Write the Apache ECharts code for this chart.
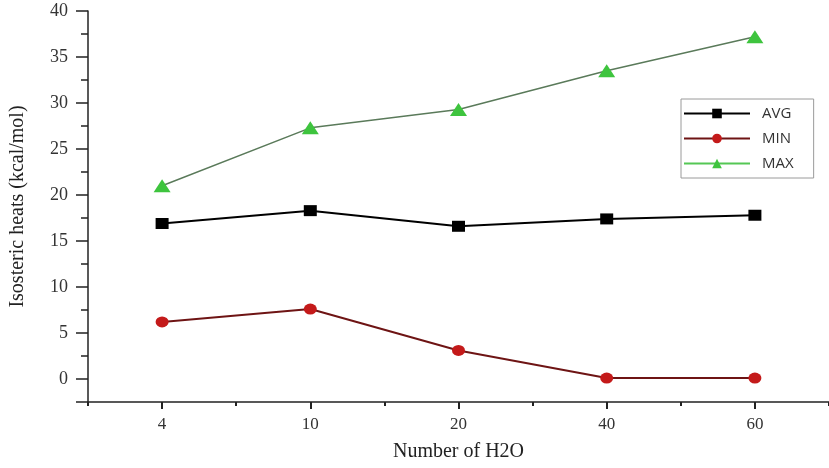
<!DOCTYPE html>
<html>
<head>
<meta charset="utf-8">
<script src="https://cdn.jsdelivr.net/npm/echarts@6/dist/echarts.min.js"></script>
<style>
	html, body { margin: 0; padding: 0; background: #fff; }
	#chart { width: 829px; height: 468px; }
</style>
</head>
<body>
<div id="chart"></div>
<script>
	// 数据
	var categories = ['4', '10', '20', '40', '60'];
	var avgValues = [16.9, 18.3, 16.6, 17.4, 17.8];
	var minValues = [6.2, 7.6, 3.1, 0.1, 0.1];
	var maxValues = [21.0, 27.3, 29.3, 33.5, 37.2];
	var seriesNames = ['AVG', 'MIN', 'MAX'];

	var serif = 'Liberation Serif';
	var axisColor = '#222';

	var myChart = echarts.init(document.getElementById('chart'));

	var option = {
		animation: false,
		backgroundColor: '#fff',
		grid: {
			left: 88,
			right: -3,
			top: 11,
			bottom: 66,
			containLabel: false
		},
		legend: {
			orient: 'vertical',
			left: 681,
			top: 99,
			padding: [7, 20, 7, 2],
			itemWidth: 66,
			itemHeight: 12,
			itemGap: 10,
			borderColor: '#9a9a9a',
			borderWidth: 1,
			textStyle: { fontFamily: 'Open Sans', fontSize: 15, color: '#333', padding: [0, 0, 0, 7] },
			data: [
				{ name: 'AVG' },
				{ name: 'MIN' },
				{ name: 'MAX', lineStyle: { color: '#55c755' } }
			]
		},
		xAxis: [{
			// 主刻度对齐标签
			type: 'category',
			data: categories,
			boundaryGap: true,
			name: 'Number of H2O',
			nameLocation: 'middle',
			nameGap: 40,
			nameTextStyle: { fontFamily: serif, fontSize: 20, color: '#222' },
			axisLine: { onZero: false, lineStyle: { color: axisColor, width: 1.5 } },
			axisTick: { show: true, alignWithLabel: true, length: 7, lineStyle: { color: axisColor, width: 2 } },
			axisLabel: { fontFamily: serif, fontSize: 17, color: '#333', margin: 14 },
			splitLine: { show: false }
		}, {
			// 次刻度在类目边界
			type: 'category',
			data: categories,
			position: 'bottom',
			boundaryGap: true,
			axisLine: { show: false, onZero: false },
			axisTick: { show: true, length: 4, lineStyle: { color: axisColor, width: 2 } },
			axisLabel: { show: false },
			splitLine: { show: false }
		}],
		yAxis: [{
			// 次刻度 2.5
			type: 'value',
			min: -2.5,
			max: 40,
			interval: 2.5,
			position: 'left',
			axisLine: { show: true, onZero: false, lineStyle: { color: axisColor, width: 1.5 } },
			axisTick: { show: true, length: 7, lineStyle: { color: axisColor, width: 1.5 } },
			axisLabel: { show: false },
			splitLine: { show: false }
		}, {
			// 主刻度 5，带标签
			type: 'value',
			min: -2.5,
			max: 40,
			splitNumber: 8,
			position: 'left',
			offset: 0,
			name: 'Isosteric heats (kcal/mol)',
			nameLocation: 'middle',
			nameGap: 60,
			nameTextStyle: { fontFamily: serif, fontSize: 20, color: '#222' },
			axisLine: { show: false, onZero: false },
			axisTick: { show: true, length: 12, lineStyle: { color: axisColor, width: 1.5 } },
			axisLabel: {
				fontFamily: serif, fontSize: 18, color: '#333', margin: 20,
				formatter: function (v) { return (v % 5 === 0) ? String(v) : ''; }
			},
			splitLine: { show: false }
		}],
		series: [{
			name: seriesNames[0],
			type: 'line',
			data: avgValues,
			symbol: 'rect',
			symbolSize: [13, 11],
			lineStyle: { color: '#000', width: 2 },
			itemStyle: { color: '#000' }
		}, {
			name: seriesNames[1],
			type: 'line',
			data: minValues,
			symbol: 'circle',
			symbolSize: [13, 11],
			lineStyle: { color: '#6e1414', width: 2 },
			itemStyle: { color: '#c41a1a' }
		}, {
			name: seriesNames[2],
			type: 'line',
			data: maxValues,
			symbol: 'triangle',
			symbolSize: [17, 13],
			lineStyle: { color: '#5a7a5a', width: 1.5 },
			itemStyle: { color: '#3ec43e' }
		}]
	};

	myChart.setOption(option);
</script>
</body>
</html>
